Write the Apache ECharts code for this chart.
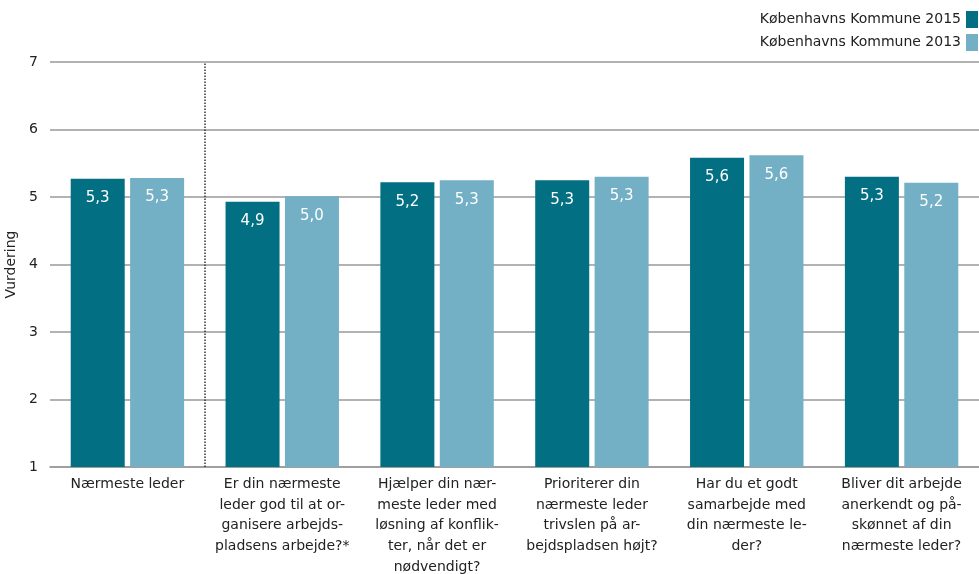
<!DOCTYPE html>
<html><head><meta charset="utf-8">
<script src="https://cdn.jsdelivr.net/npm/echarts@6/dist/echarts.min.js"></script>
<style>html,body{margin:0;padding:0;background:#fff}#c{width:979px;height:574px}</style>
</head><body><div id="c"></div>
<script>
const categories = [
  "Nærmeste leder",
  "Er din nærmeste\nleder god til at or-\nganisere arbejds-\npladsens arbejde?*",
  "Hjælper din nær-\nmeste leder med\nløsning af konflik-\nter, når det er\nnødvendigt?",
  "Prioriterer din\nnærmeste leder\ntrivslen på ar-\nbejdspladsen højt?",
  "Har du et godt\nsamarbejde med\ndin nærmeste le-\nder?",
  "Bliver dit arbejde\nanerkendt og på-\nskønnet af din\nnærmeste leder?"
];
const series2015 = [5.27, 4.93, 5.22, 5.25, 5.58, 5.30];
const series2013 = [5.28, 5.01, 5.25, 5.30, 5.62, 5.21];
const seriesNames = ["Københavns Kommune 2015", "Københavns Kommune 2013"];
const separatorAt = 0.5; // boundary between first and second category (index scale)

const FONT = "DejaVu Sans";
const chart = echarts.init(document.getElementById('c'));
const lbl = {
  show: true, position: 'insideTop', distance: 12, color: '#fff', fontSize: 15, fontFamily: FONT,
  formatter: p => p.value.toFixed(1).replace('.', ',')
};
chart.setOption({
  animation: false,
  textStyle: { fontFamily: FONT },
  legend: {
    orient: 'vertical', right: -4, top: 6, align: 'right', itemGap: 6,
    itemWidth: 12, itemHeight: 17, icon: 'rect',
    textStyle: { fontSize: 14, color: '#222', fontFamily: FONT, padding: [0, 0, 0, 0] },
    data: seriesNames
  },
  grid: { left: 50, right: 0, top: 62, bottom: 107, containLabel: false, outerBoundsMode: 'none' },
  xAxis: [{
    type: 'category', data: categories,
    axisLine: { show: true, lineStyle: { color: '#999', width: 1.5 } },
    axisTick: { show: false },
    axisLabel: { color: '#222', fontSize: 14, fontFamily: FONT, lineHeight: 20.7, margin: 7, interval: 0 },
    splitLine: { show: false }
  }, {
    type: 'value', min: -0.5, max: categories.length - 0.5, show: false,
    splitLine: { show: false }
  }],
  yAxis: {
    type: 'value', min: 1, max: 7, interval: 1,
    name: 'Vurdering', nameLocation: 'middle', nameGap: 28, nameRotate: 90,
    nameTextStyle: { fontSize: 14, color: '#222', fontFamily: FONT },
    axisLine: { show: false }, axisTick: { show: false },
    axisLabel: { color: '#222', fontSize: 14, fontFamily: FONT, margin: 12 },
    splitLine: { lineStyle: { color: '#999', width: 1.5 } }
  },
  series: [
    { name: seriesNames[0], type: 'bar', data: series2015, barWidth: 54, barGap: '10%',
      itemStyle: { color: '#036F82' }, label: lbl },
    { name: seriesNames[1], type: 'bar', data: series2013, barWidth: 54,
      itemStyle: { color: '#73AFC5' }, label: lbl },
    { type: 'line', xAxisIndex: 1, data: [], silent: true,
      markLine: { silent: true, symbol: 'none', label: { show: false },
        lineStyle: { color: '#333', type: [1.5, 1.5], width: 1.5 },
        data: [[{ coord: [separatorAt, 1] }, { coord: [separatorAt, 7] }]] } }
  ]
});
</script></body></html>
